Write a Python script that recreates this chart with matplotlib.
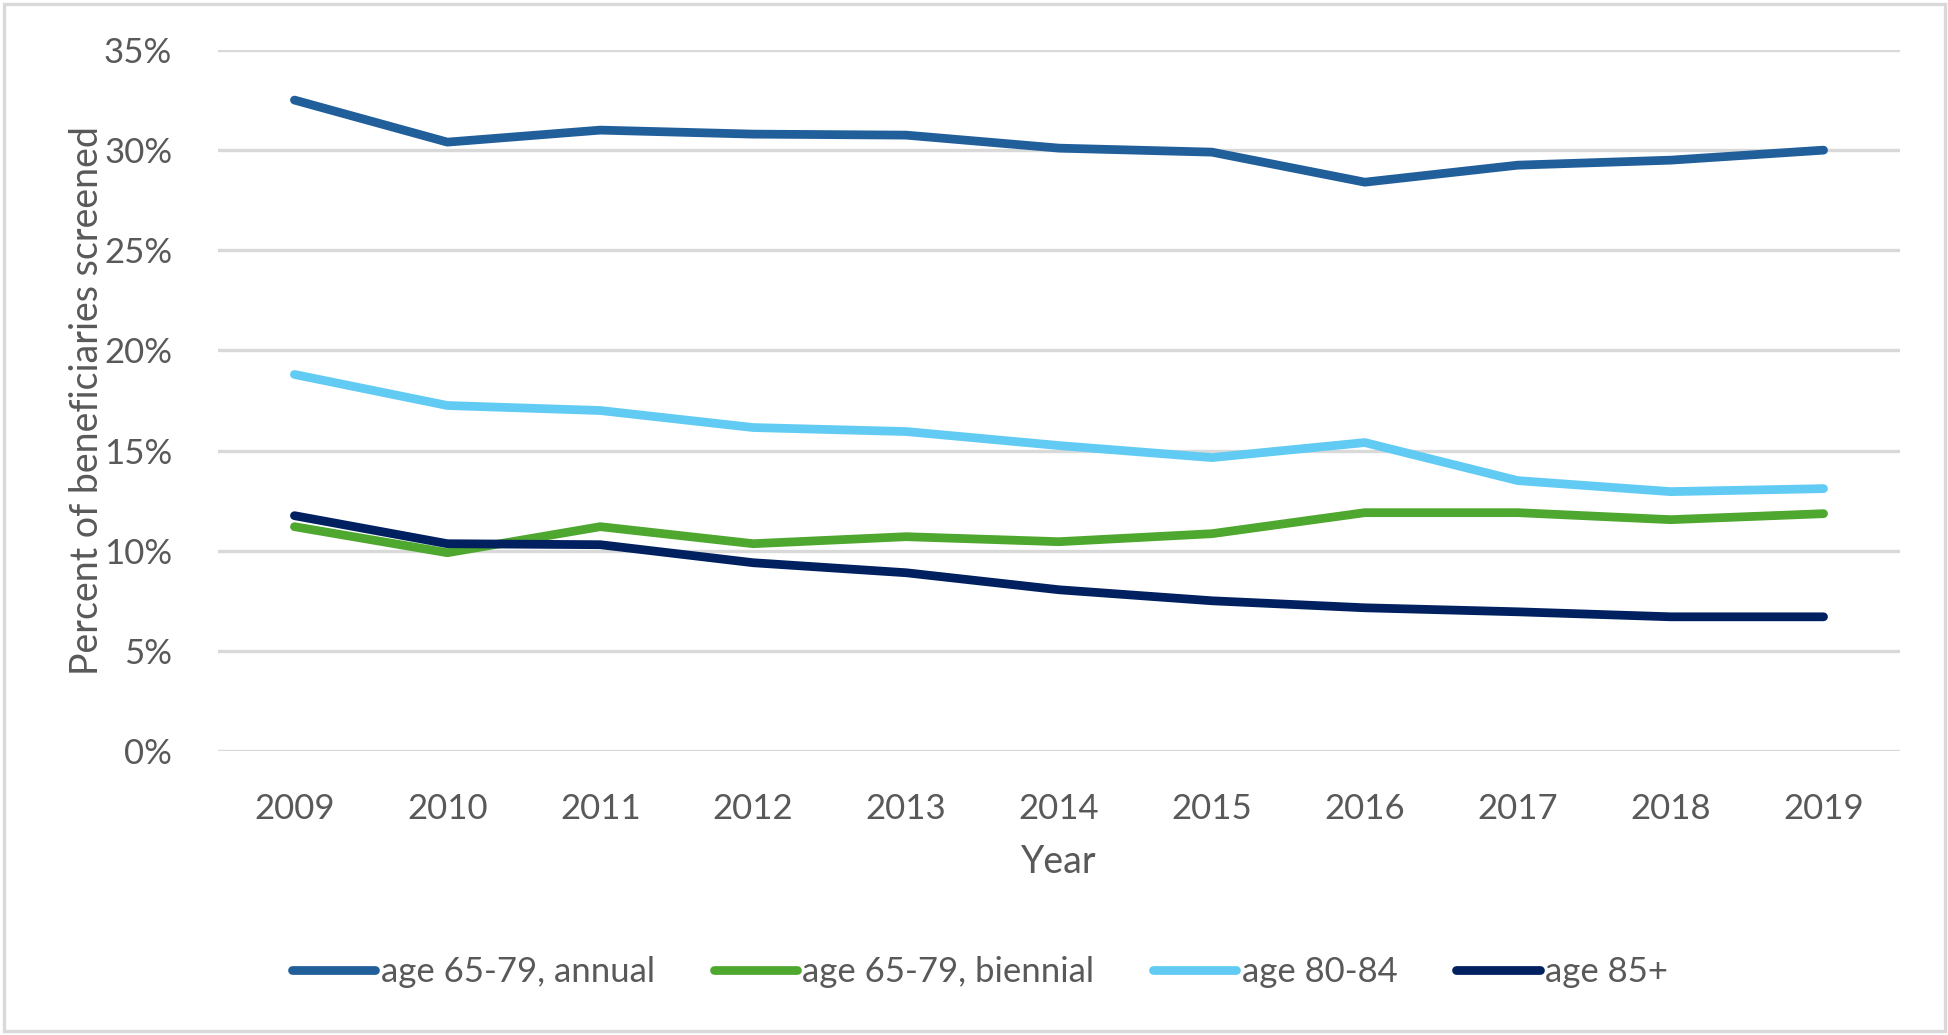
import matplotlib
matplotlib.use("Agg")
import matplotlib.pyplot as plt
from matplotlib.patches import Rectangle
from matplotlib.ticker import FuncFormatter

years = ["2009", "2010", "2011", "2012", "2013", "2014", "2015", "2016", "2017", "2018", "2019"]
annual_65_79 = [32.5, 30.4, 31.0, 30.8, 30.75, 30.1, 29.9, 28.4, 29.25, 29.5, 30.0]
biennial_65_79 = [11.2, 9.9, 11.2, 10.35, 10.7, 10.45, 10.85, 11.9, 11.9, 11.55, 11.85]
age_80_84 = [18.8, 17.25, 17.0, 16.15, 15.95, 15.25, 14.65, 15.4, 13.5, 12.95, 13.1]
age_85_plus = [11.75, 10.35, 10.3, 9.4, 8.9, 8.05, 7.5, 7.15, 6.95, 6.7, 6.7]

series_labels = ["age 65-79, annual", "age 65-79, biennial", "age 80-84", "age 85+"]
series_values = [annual_65_79, biennial_65_79, age_80_84, age_85_plus]
colors = ["#215F9A", "#4EA72E", "#61CBF3", "#002060"]

plt.rcParams['font.family'] = ['Lato', 'DejaVu Sans']
text_color = "#595959"

W, H = 1949, 1035
fig = plt.figure(figsize=(W / 100, H / 100), dpi=100)
ax = fig.add_axes([218 / W, 1 - 751 / H, (1900 - 218) / W, (751 - 50) / H])

x = list(range(len(years)))
for lab, vals, c in zip(series_labels, series_values, colors):
    ax.plot(x, vals, color=c, lw=6.3, label=lab,
            solid_capstyle='round', solid_joinstyle='round')

ax.set_xlim(-0.5, len(years) - 0.5)
ax.set_ylim(0, 35)
ax.set_yticks(range(0, 36, 5))
ax.yaxis.set_major_formatter(FuncFormatter(lambda v, p: f"{int(v)}%"))
ax.set_xticks(x)
ax.set_xticklabels(years)
ax.grid(axis='y', color='#D9D9D9', lw=2.4)
ax.set_axisbelow(True)
for s in ax.spines.values():
    s.set_visible(False)
ax.tick_params(axis='both', length=0, labelsize=25, colors=text_color)
ax.tick_params(axis='y', pad=33)
ax.tick_params(axis='x', pad=30)
ax.set_xlabel("Year", fontsize=27, color=text_color, labelpad=14)
ax.set_ylabel("Percent of beneficiaries screened", fontsize=27, color=text_color, labelpad=-1)

leg = fig.legend(loc='center', bbox_to_anchor=(980 / W, 1 - 972 / H), ncol=4,
                 frameon=False, fontsize=25, handlelength=2.4, handletextpad=0.15,
                 columnspacing=1.7)
for t in leg.get_texts():
    t.set_color(text_color)
for h in leg.get_lines():
    h.set_linewidth(6.3)
    h.set_solid_capstyle('round')

fig.patches.append(Rectangle((4 / W, 4 / H), (W - 8) / W, (H - 8) / H, transform=fig.transFigure,
                             fill=False, edgecolor='#D9D9D9', lw=2.4))

fig.savefig("out.png", dpi=100, facecolor='white')
